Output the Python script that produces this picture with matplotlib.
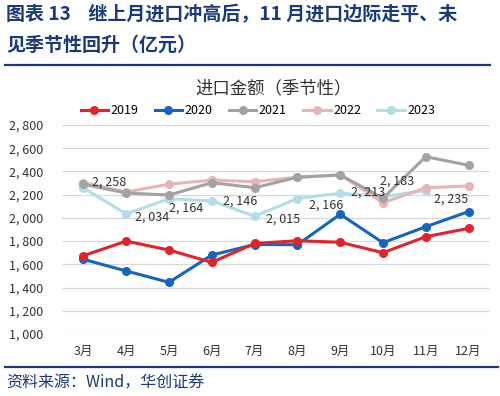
import matplotlib.pyplot as plt
from matplotlib.lines import Line2D

plt.rcParams["font.family"] = ["Noto Sans CJK SC", "DejaVu Sans"]

months = ["3月", "4月", "5月", "6月", "7月", "8月", "9月", "10月", "11月", "12月"]

imp_2019 = [1674, 1800, 1723, 1617, 1780, 1803, 1790, 1700, 1838, 1910]
imp_2020 = [1643, 1543, 1445, 1680, 1770, 1769, 2031, 1786, 1924, 2054]
imp_2021 = [2290, 2214, 2197, 2303, 2260, 2350, 2370, 2170, 2527, 2453]
imp_2022 = [2303, 2223, 2290, 2326, 2312, 2350, 2370, 2131, 2260, 2275]
imp_2023 = [2258, 2034, 2164, 2146, 2015, 2166, 2213, 2183, 2235]

yticks = [1000, 1200, 1400, 1600, 1800, 2000, 2200, 2400, 2600, 2800]

TITLE_BLUE = "#1b3a78"


def fmt(v):
    return f"{v // 1000}, {v % 1000:03d}"


fig = plt.figure(figsize=(5.0, 3.96), dpi=100)

# header and footer
fig.text(0.012, 0.962, "图表 13    继上月进口冲高后，11 月进口边际走平、未",
         fontsize=13.7, fontweight="bold", color=TITLE_BLUE, va="center")
fig.text(0.012, 0.886, "见季节性回升（亿元）",
         fontsize=13.7, fontweight="bold", color=TITLE_BLUE, va="center")
fig.add_artist(Line2D([0.01, 0.98], [1 - 65 / 396] * 2, color=TITLE_BLUE, lw=1.6))
fig.add_artist(Line2D([0.01, 0.995], [1 - 367 / 396] * 2, color=TITLE_BLUE, lw=1.6))
fig.text(0.012, 1 - 383 / 396, "资料来源：Wind，华创证券", fontsize=11.5,
         color=TITLE_BLUE, va="center", style="italic")

fig.text(274 / 500, 1 - 88 / 396, "进口金额（季节性）", fontsize=12.5, color="#333333",
         ha="center", va="center")

ax = fig.add_axes([62 / 500, 1 - 334 / 396, 428 / 500, 209 / 396])

x = list(range(len(months)))
series = [
    ("2019", imp_2019, "#e1232b"),
    ("2020", imp_2020, "#1565c0"),
    ("2021", imp_2021, "#a3a3a3"),
    ("2022", imp_2022, "#e8b5b5"),
    ("2023", imp_2023, "#b3dde8"),
]
# draw pale series first so the strong lines sit on top
handles = {}
for i in [4, 3, 2, 1, 0]:
    name, vals, color = series[i]
    (h,) = ax.plot(x[:len(vals)], vals, color=color, lw=2.2, marker="o",
                   markersize=5.5, zorder=3, label=name)
    handles[name] = h

# data labels for 2023
offsets = [(6, 4), (6, -2), (0, -7), (8, 0), (8, -2), (8, -5), (8, 1), (-2, 11), (6, -6)]
for xi, v, (dx, dy) in zip(x, imp_2023, offsets):
    ax.annotate(fmt(v), (xi, v), xytext=(dx, dy), textcoords="offset points",
                fontsize=9, color="#333333", ha="left", va="center", zorder=6)

ax.set_xlim(-0.5, 9.5)
ax.set_ylim(1000, 2800)
ax.set_yticks(yticks)
ax.set_yticklabels([fmt(v) for v in yticks])
ax.set_xticks(x)
ax.set_xticklabels(months)
ax.tick_params(axis="both", length=0, labelsize=9, colors="#333333")
ax.tick_params(axis="y", pad=38)
for lab in ax.get_yticklabels():
    lab.set_horizontalalignment("left")
ax.tick_params(axis="x", pad=8)
ax.grid(axis="y", color="#d9d9d9", lw=0.9)
ax.set_axisbelow(True)
for s in ax.spines.values():
    s.set_visible(False)

names = ["2019", "2020", "2021", "2022", "2023"]
fig.legend([handles[n] for n in names], names,
           loc="center", bbox_to_anchor=(258 / 500, 1 - 111 / 396), ncol=5,
           frameon=False, fontsize=9, handlelength=2.2, columnspacing=1.3,
           handletextpad=0.2)

fig.savefig("out.png", dpi=100)
